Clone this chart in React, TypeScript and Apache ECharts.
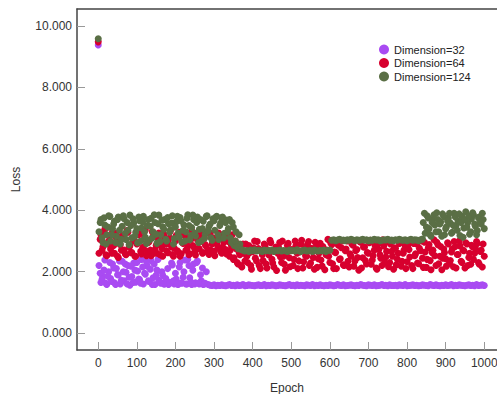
import React, { useEffect, useRef } from "react";
import * as echarts from "echarts";

const STEP = 5;
const epochTicks = [0, 100, 200, 300, 400, 500, 600, 700, 800, 900, 1000];
const lossTicks = [0, 2, 4, 6, 8, 10];
const seriesNames = ["Dimension=32", "Dimension=64", "Dimension=124"];
const colors = ["#A94BF2", "#D7002E", "#5A6F45"];

// Dimension=32
const dim32Start = [9.38]; // epoch 0
const dim32Early = [
  1.95, 1.75, 2.05, 1.62, 1.85, 2.3, 1.68, 2.12, 1.58, 1.9, 2.35, 1.72, 2.0, 2.25,
  1.6, 1.82, 2.18, 1.65, 2.05, 2.3, 1.76, 1.62, 2.15, 1.95, 2.32, 1.7, 2.08, 1.58,
  2.25, 1.88, 2.4, 1.66, 2.0, 1.6, 1.78, 2.1, 1.62, 2.28, 1.7, 1.95, 1.6, 2.15,
  1.64, 1.82, 2.38, 1.6, 2.2, 1.66, 2.05, 1.6, 2.3, 1.62, 1.9, 2.12, 1.6, 2.0,
]; // epochs 5..280
const dim32EarlyB = [
  2.2, 1.65, 1.85, 2.38, 1.58, 2.0, 1.78, 2.25, 1.64, 2.1, 1.9, 1.6, 2.34, 1.7, 1.98, 2.2, 1.56, 1.84, 2.28, 1.66,
  2.02, 1.74, 2.4, 1.6, 1.92, 2.18, 1.68, 2.36, 1.8, 1.58, 2.05, 1.72, 1.62, 1.88, 1.6, 1.7, 1.58, 1.65, 2.22, 1.6,
  1.76, 1.58, 2.3, 1.62, 2.0, 1.6, 2.4, 1.8, 1.58, 2.25, 1.64, 2.35, 1.6, 1.7, 1.58, 1.62,
]; // epochs 2..277
const dim32Late = [
  1.58, 1.56, 1.55, 1.57, 1.54, 1.56, 1.55, 1.57, 1.55, 1.54, 1.56, 1.58,
  1.55, 1.56, 1.54, 1.57, 1.55, 1.56, 1.58, 1.54, 1.55, 1.57, 1.56, 1.55,
  1.54, 1.56, 1.57, 1.55, 1.55, 1.58, 1.54, 1.56, 1.55, 1.57, 1.56, 1.54,
  1.55, 1.57, 1.56, 1.55, 1.54, 1.56, 1.58, 1.55, 1.56, 1.54, 1.57, 1.55,
  1.56, 1.55, 1.54, 1.57, 1.56, 1.55, 1.58, 1.54, 1.56, 1.55, 1.57, 1.55,
  1.54, 1.56, 1.55, 1.57, 1.56, 1.54, 1.55, 1.58, 1.56, 1.55, 1.57, 1.54,
  1.55, 1.56, 1.57, 1.55, 1.54, 1.56, 1.55, 1.58, 1.56, 1.55, 1.54, 1.57,
  1.56, 1.55, 1.57, 1.54, 1.55, 1.56, 1.58, 1.55, 1.56, 1.54, 1.57, 1.55,
  1.55, 1.56, 1.54, 1.57, 1.56, 1.55, 1.58, 1.54, 1.55, 1.56, 1.57, 1.55,
  1.56, 1.54, 1.55, 1.57, 1.56, 1.55, 1.54, 1.58, 1.56, 1.55, 1.57, 1.55,
  1.54, 1.56, 1.55, 1.57, 1.55, 1.56, 1.58, 1.54, 1.56, 1.55, 1.57, 1.56,
  1.55, 1.54, 1.56, 1.57, 1.55, 1.56, 1.54, 1.58, 1.55, 1.56, 1.57, 1.55,
]; // epochs 285..1000

// Dimension=64
const dim64Start = [9.48];
const dim64Early = [
  3.05, 2.7, 3.3, 2.55, 2.9, 3.15, 2.6, 2.85, 3.25, 2.5, 2.95, 2.7, 3.1, 2.58, 3.35, 2.8, 2.62, 3.0, 2.5, 2.9,
  3.2, 2.66, 2.78, 3.12, 2.52, 2.95, 2.7, 3.3, 2.6, 2.85, 3.05, 2.55, 2.75, 3.22, 2.9, 2.62, 3.1, 2.8, 2.5, 3.0,
  2.68, 3.28, 2.58, 2.92, 3.15, 2.72, 2.55, 3.05, 2.85, 2.64, 3.2, 2.76, 2.98, 2.6, 3.1, 2.82, 2.7, 3.25, 2.9, 2.66,
  3.0, 2.78, 3.15, 2.6, 2.95, 2.72, 3.08, 2.5, 2.85, 2.4, 3.0, 2.3, 2.62, 2.2, 2.9, 2.35,
]; // epochs 5..380
const dim64EarlyB = [
  2.6, 3.2, 2.8, 3.38, 2.52, 3.0, 2.74, 3.3, 2.6, 3.1, 2.46, 2.88, 3.18, 2.7, 2.55, 3.28, 2.84, 2.62, 3.06, 2.5,
  2.94, 3.24, 2.58, 2.8, 3.36, 2.66, 2.98, 2.52, 3.14, 2.72, 2.6, 3.26, 2.86, 2.5, 3.08, 2.68, 2.92, 3.32, 2.56, 2.76,
  3.18, 2.64, 2.5, 2.96, 3.22, 2.7, 2.84, 2.58, 3.34, 2.8, 2.54, 3.04, 2.74, 3.2, 2.62, 2.88, 3.3, 2.56, 2.7, 3.1,
  2.52, 2.9, 3.26, 2.66, 2.8, 3.12, 2.58, 2.98, 2.7, 3.2, 2.45, 2.75, 2.25, 2.55, 2.15, 2.6,
]; // epochs 2..377
const dim64Late = [
  2.5, 2.85, 2.2, 2.65, 3.0, 2.35, 2.75, 2.1, 2.55, 2.9, 2.25, 2.7, 3.02, 2.4, 2.15, 2.8, 2.6, 2.95, 2.3, 2.5,
  2.05, 2.85, 2.45, 2.7, 2.2, 3.0, 2.6, 2.35, 2.9, 2.12, 2.75, 2.5, 2.98, 2.28, 2.65, 2.08, 2.82, 2.42, 2.92, 2.18,
  2.7, 2.55, 3.05, 2.3, 2.88, 2.1, 2.62, 2.95, 2.4, 2.78, 2.22, 2.68, 3.0, 2.15, 2.5, 2.86, 2.35, 2.72, 2.05, 2.96,
  2.45, 2.8, 2.25, 2.6, 3.02, 2.38, 2.7, 2.12, 2.9, 2.55, 2.2, 2.84, 2.48, 2.98, 2.3, 2.66, 2.08, 2.76, 2.4, 2.92,
  2.18, 2.6, 2.85, 2.32, 2.72, 3.0, 2.1, 2.52, 2.9, 2.26, 2.68, 2.44, 2.96, 2.14, 2.78, 2.36, 2.62, 3.04, 2.2, 2.88,
  2.5, 2.06, 2.74, 2.42, 2.94, 2.28, 2.64, 2.16, 2.82, 2.56, 3.0, 2.34, 2.7, 2.12, 2.9, 2.46, 2.24, 2.8, 2.6, 2.98,
  2.3, 2.66, 2.15, 2.5,
]; // epochs 385..1000
const dim64LateB = [
  2.9, 2.3, 2.62, 2.08, 2.78, 2.44, 2.98, 2.2, 2.7, 2.36, 2.86, 2.12, 2.54, 2.94, 2.28, 2.66, 2.04, 2.8, 2.48, 3.0,
  2.24, 2.58, 2.92, 2.16, 2.72, 2.4, 2.84, 2.1, 2.64, 3.02, 2.32, 2.52, 2.88, 2.2, 2.76, 2.46, 2.96, 2.14, 2.6, 2.38,
  2.82, 2.06, 2.7, 2.5, 2.94, 2.26, 2.64, 2.1, 2.86, 2.42, 3.0, 2.2, 2.74, 2.34, 2.58, 2.9, 2.18, 2.68, 2.46, 2.98,
  2.12, 2.8, 2.36, 2.62, 2.94, 2.24, 2.52, 2.86, 2.08, 2.72, 2.44, 3.04, 2.3, 2.66, 2.16, 2.9, 2.5, 2.78, 2.22, 2.6,
  2.96, 2.34, 2.7, 2.1, 2.84, 2.48, 2.2, 2.92, 2.58, 2.28, 2.76, 3.0, 2.14, 2.64, 2.4, 2.88, 2.06, 2.7, 2.52, 2.96,
  2.26, 2.82, 2.44, 2.62, 2.18, 2.9, 2.36, 2.74, 2.98, 2.12, 2.56, 2.84, 2.3, 2.68, 2.94, 2.2, 2.6, 2.86, 2.4, 2.76,
  2.92, 2.24, 2.7, 2.9,
]; // epochs 382..997

// Dimension=124
const dim124Start = [9.58];
const dim124Early = [
  3.6, 3.1, 3.75, 2.9, 3.45, 3.8, 3.2, 3.55, 2.95, 3.7, 3.35, 3.05, 3.82, 3.25, 3.6, 2.88, 3.5, 3.72, 3.15, 3.4,
  3.78, 3.0, 3.62, 3.3, 2.92, 3.7, 3.48, 3.1, 3.85, 3.22, 3.56, 2.98, 3.68, 3.38, 3.05, 3.76, 3.28, 3.58, 2.9, 3.45,
  3.8, 3.12, 3.65, 3.35, 3.0, 3.74, 3.5, 3.18, 3.84, 3.26, 3.6, 2.95, 3.7, 3.4, 3.08, 3.8, 3.32, 3.55, 3.02, 3.66,
  3.78, 3.2, 3.5, 3.75, 3.1, 3.6, 3.3, 3.7, 2.95, 3.45, 3.0, 2.8, 3.2, 2.72,
]; // epochs 5..370
const dim124EarlyB = [
  3.3, 3.7, 2.95, 3.52, 3.2, 3.82, 3.0, 3.4, 3.65, 3.15, 3.78, 2.9, 3.48, 3.72, 3.05, 3.35, 3.84, 3.1, 3.58, 3.28,
  2.94, 3.66, 3.42, 3.8, 3.12, 3.5, 3.02, 3.74, 3.3, 3.6, 2.92, 3.84, 3.2, 3.46, 3.7, 3.0, 3.56, 3.36, 3.82, 3.08,
  3.62, 3.25, 3.76, 2.96, 3.52, 3.3, 3.85, 3.04, 3.44, 3.7, 3.16, 3.78, 3.38, 3.0, 3.64, 3.22, 3.82, 3.48, 3.1, 3.72,
  3.35, 3.8, 3.05, 3.58, 3.78, 3.25, 3.68, 3.4, 3.1, 3.6, 2.85, 3.3, 2.75, 2.9,
]; // epochs 2..367
const dim124Mid1 = [
  2.7, 2.67, 2.69, 2.66, 2.7, 2.68, 2.71, 2.67, 2.69, 2.68, 2.66, 2.7, 2.68, 2.69, 2.67, 2.7,
  2.66, 2.69, 2.68, 2.7, 2.67, 2.69, 2.68, 2.66, 2.7, 2.68, 2.69, 2.67, 2.71, 2.68, 2.66, 2.69,
  2.7, 2.67, 2.68, 2.69, 2.66, 2.7, 2.68, 2.67, 2.69, 2.68, 2.7, 2.66, 2.69, 2.7,
]; // epochs 375..600
const dim124Mid2 = [
  3.02, 3.04, 3.01, 3.03, 3.05, 3.02, 3.03, 3.01, 3.04, 3.02, 3.05, 3.03, 3.01, 3.04, 3.02, 3.03,
  3.05, 3.02, 3.04, 3.01, 3.03, 3.02, 3.05, 3.03, 3.04, 3.01, 3.02, 3.04, 3.03, 3.05, 3.02, 3.03,
  3.01, 3.04, 3.02, 3.05, 3.03, 3.02, 3.04, 3.01, 3.03, 3.05, 3.02, 3.04, 3.03, 3.01, 3.04, 3.06,
]; // epochs 605..840
const dim124Late = [
  3.9, 3.45, 3.75, 3.2, 3.6, 3.85, 3.3, 3.7, 3.55, 3.15, 3.8, 3.4, 3.65, 3.9, 3.25, 3.5,
  3.78, 3.35, 3.88, 3.6, 3.12, 3.7, 3.45, 3.82, 3.3, 3.92, 3.55, 3.2, 3.75, 3.62, 3.9, 3.4,
]; // epochs 845..1000
const dim124LateB = [
  3.6, 3.25, 3.82, 3.4, 3.15, 3.7, 3.52, 3.92, 3.3, 3.62, 3.88, 3.2, 3.46, 3.75, 3.58, 3.28,
  3.9, 3.5, 3.65, 3.18, 3.8, 3.42, 3.95, 3.6, 3.22, 3.72, 3.85, 3.48, 3.34, 3.78, 3.55, 3.7,
]; // epochs 842..997

function seg(start: number, vals: number[]) {
  return vals.map((v, k) => [start + STEP * k, v]);
}

const dim32Data = [
  ...seg(0, dim32Start),
  ...seg(2, dim32EarlyB),
  ...seg(5, dim32Early),
  ...seg(285, dim32Late),
];
const dim64Data = [
  ...seg(0, dim64Start),
  ...seg(2, dim64EarlyB),
  ...seg(5, dim64Early),
  ...seg(382, dim64LateB),
  ...seg(385, dim64Late),
];
const dim124Data = [
  ...seg(0, dim124Start),
  ...seg(2, dim124EarlyB),
  ...seg(5, dim124Early),
  ...seg(375, dim124Mid1),
  ...seg(605, dim124Mid2),
  ...seg(842, dim124LateB),
  ...seg(845, dim124Late),
];

const FONT = "'Liberation Sans', Arial, sans-serif";
const X_MIN = -55;
const X_MAX = 1033;
const Y_MIN = -0.55;
const Y_MAX = 10.55;

export default function App() {
  const ref = useRef<HTMLDivElement>(null);
  useEffect(() => {
    if (!ref.current) return;
    const chart = echarts.init(ref.current, undefined, { renderer: "svg" });
    const axisLine = { show: true, onZero: false, lineStyle: { color: "#444", width: 1.5 } };
    chart.setOption({
      animation: false,
      backgroundColor: "#fff",
      textStyle: { fontFamily: FONT },
      grid: { left: 77, top: 9, right: 0, bottom: 44, containLabel: false, outerBoundsMode: "none" },
      legend: {
        data: seriesNames.map((n) => ({ name: n, icon: "circle" })),
        orient: "vertical",
        left: 374,
        top: 39,
        itemWidth: 10,
        itemHeight: 10,
        itemGap: 2.5,
        textStyle: { fontSize: 11, color: "#222", fontFamily: FONT, lineHeight: 11 },
      },
      xAxis: [
        {
          type: "value",
          min: X_MIN,
          max: X_MAX,
          position: "bottom",
          axisLine,
          splitLine: { show: false },
          axisTick: {
            show: true,
            inside: true,
            length: 8,
            customValues: epochTicks,
            lineStyle: { color: "#999" },
          },
          axisLabel: {
            customValues: epochTicks,
            fontSize: 12,
            color: "#333",
            margin: 7,
            fontFamily: FONT,
            formatter: (v: number) => String(v),
          },
          name: "Epoch",
          nameLocation: "middle",
          nameGap: 32,
          nameTextStyle: { fontSize: 12, color: "#333", fontFamily: FONT },
        },
        {
          type: "value",
          min: X_MIN,
          max: X_MAX,
          position: "top",
          axisLine,
          splitLine: { show: false },
          axisTick: { show: false },
          axisLabel: { show: false },
        },
      ],
      yAxis: {
        type: "value",
        min: Y_MIN,
        max: Y_MAX,
        axisLine,
        splitLine: { show: false },
        axisTick: {
          show: true,
          inside: true,
          length: 8,
          customValues: lossTicks,
          lineStyle: { color: "#999" },
        },
        axisLabel: {
          customValues: lossTicks,
          fontSize: 12,
          color: "#333",
          margin: 5,
          fontFamily: FONT,
          formatter: (v: number) => v.toFixed(3),
        },
        name: "Loss",
        nameLocation: "middle",
        nameGap: 55,
        nameTextStyle: { fontSize: 12, color: "#333", fontFamily: FONT },
      },
      series: [
        { name: seriesNames[0], type: "scatter", data: dim32Data, symbolSize: 7, itemStyle: { color: colors[0], opacity: 1 } },
        { name: seriesNames[1], type: "scatter", data: dim64Data, symbolSize: 7, itemStyle: { color: colors[1], opacity: 1 } },
        { name: seriesNames[2], type: "scatter", data: dim124Data, symbolSize: 7, itemStyle: { color: colors[2], opacity: 1 } },
      ],
    });
    return () => chart.dispose();
  }, []);
  return (
    <div
      ref={ref}
      style={{ position: "fixed", left: 0, top: 0, width: 497, height: 394 }}
    />
  );
}
